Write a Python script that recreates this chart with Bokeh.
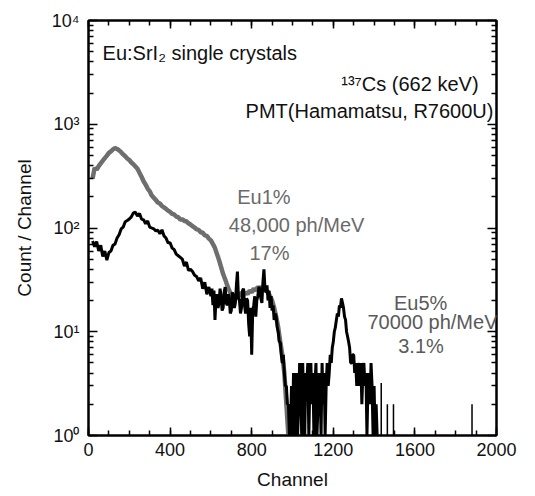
from bokeh.plotting import figure
from bokeh.models import LogAxis, LinearAxis, FixedTicker, Range1d, Label, CustomJSTickFormatter
from bokeh.embed import file_html
from bokeh.resources import INLINE

# ---- data ----
# Eu 5 % spectrum (black): 10-channel points up to 590, then 5-channel points
ch_eu5 = list(range(20, 600, 10)) + list(range(600, 1425, 5))
cnt_eu5 = [
    # 20 - 590
    75, 66, 74, 60, 68, 53, 60, 49, 58, 60,
    68, 70, 80, 86, 98, 102, 115, 118, 122, 128,
    140, 142, 130, 138, 122, 120, 110, 117, 102, 100,
    98, 94, 95, 88, 96, 84, 80, 72, 72, 64,
    62, 56, 54, 52, 50, 43, 47, 39, 40, 38,
    35, 34, 31, 33, 26, 30, 23, 27,
    # 600 - 1420
    22, 26, 18, 25, 13, 21, 23, 17, 19, 26, 22, 16, 17, 24, 27, 19, 18, 23, 21, 15,
    16, 24, 22, 17, 19, 28, 38, 21, 20, 15, 17, 25, 26, 18, 15, 21, 20, 12, 9, 17,
    6, 16, 18, 22, 14, 20, 22, 27, 26, 21, 19, 30, 40, 26, 24, 28, 20, 25, 17, 22,
    16, 18, 13, 15, 14, 11, 10, 8, 8, 6, 5, 6, 4, 3, 3, 2, 2, 1, 1, 3,
    1, 4, 1, 3, 4, 1, 2, 5, 3, 1, 5, 2, 1, 4, 3, 5, 1, 3, 5, 2,
    4, 1, 3, 5, 1, 2, 4, 3, 1, 5, 2, 4, 1, 3, 5, 3, 4, 6, 5, 7,
    8, 10, 11, 13, 15, 14, 18, 17, 21, 19, 17, 14, 13, 10, 9, 8, 7, 5, 5, 6,
    6, 4, 5, 3, 5, 4, 3, 5, 2, 4, 5, 3, 4, 1, 3, 4, 2, 5, 3, 1,
    3, 1, 2, 1, 1,
]
# Eu 1 % spectrum (grey)
ch_eu1 = list(range(20, 990, 10))
cnt_eu1 = [
    300, 380, 365, 395, 420, 445, 472, 498, 530, 548,
    572, 590, 578, 560, 538, 512, 492, 468, 452, 428,
    412, 392, 372, 340, 312, 282, 262, 240, 226, 206,
    196, 186, 176, 172, 163, 158, 153, 147, 143, 137,
    135, 129, 127, 121, 121, 117, 116, 111, 108, 104,
    101, 97, 96, 91, 90, 85, 84, 79, 76, 70,
    64, 56, 49, 42, 36, 32, 28, 25, 23, 22,
    22, 23, 22, 24, 23, 24, 23, 25, 24, 26,
    25, 27, 26, 27, 26, 25, 24, 22, 20, 17,
    14, 11, 8, 6, 4, 2, 1,
]
# isolated single-channel counts beyond the spectra
spike_ch = [1435, 1465, 1495, 1880]
spike_cnt = [3.2, 2.0, 2.0, 2.0]

x_major = [0, 400, 800, 1200, 1600, 2000]
y_major = [1, 10, 100, 1000, 10000]
y_labels = ["10\u2070", "10\u00b9", "10\u00b2", "10\u00b3", "10\u2074"]

assert len(ch_eu5) == len(cnt_eu5)
assert len(ch_eu1) == len(cnt_eu1)

FONT = "Liberation Sans"

p = figure(frame_width=408, frame_height=415, y_axis_type="log",
           x_range=Range1d(0, 2000), y_range=Range1d(1, 1e4),
           output_backend="svg", toolbar_location=None,
           min_border_left=88, min_border_top=20, min_border_right=30,
           min_border_bottom=5, background_fill_color="white")
p.grid.visible = False
p.outline_line_color = "black"
p.outline_line_width = 2

x_minor = list(range(0, 2001, 100))
y_minor = [m * 10 ** k for k in range(4) for m in range(2, 10)]
blank = CustomJSTickFormatter(code="return ''")

def style_x(ax, labels=True):
    ax.ticker = FixedTicker(ticks=x_major, minor_ticks=x_minor)
    ax.axis_line_width = 2
    ax.major_tick_in = 8
    ax.major_tick_out = 0
    ax.minor_tick_in = 5
    ax.minor_tick_out = 0
    ax.major_tick_line_width = 1.5
    ax.minor_tick_line_width = 1.5
    ax.major_label_text_font = FONT
    ax.major_label_text_font_size = "18px"
    ax.major_label_text_color = "#111111"
    ax.major_label_standoff = 7
    if not labels:
        ax.formatter = blank

def style_y(ax, labels=True):
    ax.ticker = FixedTicker(ticks=y_major, minor_ticks=y_minor)
    ax.axis_line_width = 2
    ax.major_tick_in = 9
    ax.major_tick_out = 0
    ax.minor_tick_in = 5
    ax.minor_tick_out = 0
    ax.major_tick_line_width = 1.5
    ax.minor_tick_line_width = 1.5
    ax.major_label_text_font = FONT
    ax.major_label_text_font_size = "18px"
    ax.major_label_text_color = "#111111"
    ax.major_label_standoff = 9
    if labels:
        ax.major_label_overrides = {float(v): s for v, s in zip(y_major, y_labels)}
    else:
        ax.formatter = blank

style_x(p.xaxis[0])
style_y(p.yaxis[0])
p.xaxis.axis_label = "Channel"
p.yaxis.axis_label = "Count / Channel"
for ax in (p.xaxis[0], p.yaxis[0]):
    ax.axis_label_text_font = FONT
    ax.axis_label_text_font_size = "19px"
    ax.axis_label_text_font_style = "normal"
    ax.axis_label_text_color = "#111111"
p.xaxis.axis_label_standoff = 10
p.yaxis.axis_label_standoff = 14

top = LinearAxis()
style_x(top, labels=False)
p.add_layout(top, "above")
right = LogAxis()
style_y(right, labels=False)
p.add_layout(right, "right")

# ---- spectra ----
p.line(ch_eu1, cnt_eu1, line_color="#6e6e6e", line_width=4.5)
p.line(ch_eu5, cnt_eu5, line_color="black", line_width=3)
p.segment(x0=spike_ch, y0=[1] * len(spike_ch), x1=spike_ch, y1=spike_cnt,
          line_color="black", line_width=1.5)

# ---- annotations ----
def lab(x, y, t, color="#111111", align="left", size="20px"):
    p.add_layout(Label(x=x, y=y, text=t, text_font=FONT, text_font_size=size,
                       text_color=color, text_align=align, text_baseline="middle"))

lab(69, 4900, "Eu:SrI\u2082 single crystals")
lab(1912, 2455, "\u00b9\u00b3\u2077Cs (662 keV)", align="right")
lab(1985, 1350, "PMT(Hamamatsu, R7600U)", align="right")
lab(860, 197, "Eu1%", color="#6a6a6a", align="center")
lab(1020, 106, "48,000 ph/MeV", color="#6a6a6a", align="center")
lab(887, 56.8, "17%", color="#6a6a6a", align="center")
lab(1628, 19.1, "Eu5%", color="#5a5a5a", align="center")
lab(1686, 12.3, "70000 ph/MeV", color="#5a5a5a", align="center")
lab(1630, 7.37, "3.1%", color="#5a5a5a", align="center")

open("out.html", "w").write(file_html(p, INLINE))
